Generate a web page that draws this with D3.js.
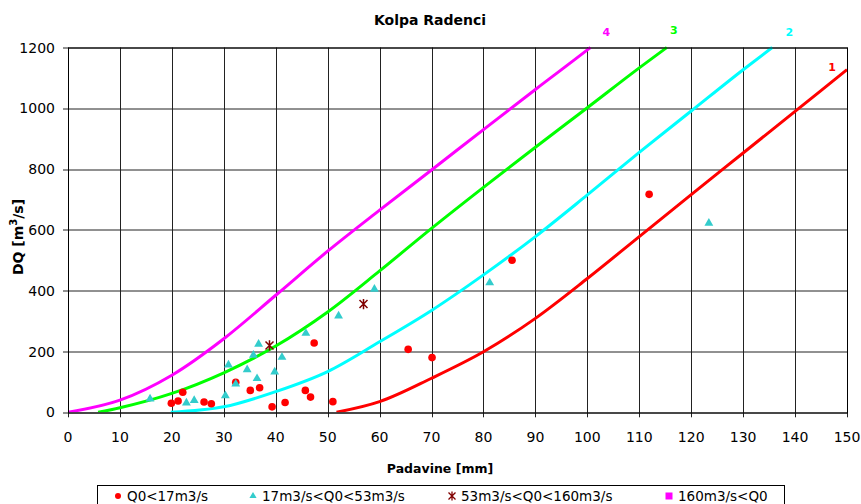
<!DOCTYPE html>
<html>
<head>
<meta charset="utf-8">
<script src="https://cdn.jsdelivr.net/npm/d3@7"></script>
<style>
body { margin: 0; background: #fff; }
text { font-family: "DejaVu Sans", Verdana, sans-serif; }
</style>
</head>
<body>
<div id="chart-area"></div>
<script>
// axis ticks
var xTicks = [0, 10, 20, 30, 40, 50, 60, 70, 80, 90, 100, 110, 120, 130, 140, 150];
var yTicks = [0, 200, 400, 600, 800, 1000, 1200];

// curves (P in mm, DQ in m3/s)
var curve1P = [51.7, 60, 70, 80, 90, 100, 110, 120, 130, 140, 150];
var curve1Q = [0, 35, 112, 199, 309, 440, 578, 716, 853, 990, 1127];
var curve2P = [19.8, 30, 40, 50, 60, 70, 80, 90, 100, 110, 120, 130, 135.6];
var curve2Q = [0, 18, 68, 134, 232, 335, 452, 578, 715, 855, 991, 1127, 1200];
var curve3P = [5.8, 10, 20, 30, 40, 50, 60, 70, 80, 90, 100, 110, 115.3];
var curve3Q = [0, 15, 62, 130, 218, 330, 465, 605, 740, 872, 1002, 1133, 1200];
var curve4P = [0, 10, 20, 30, 40, 50, 60, 70, 80, 90, 100, 100.6];
var curve4Q = [0, 40, 122, 242, 385, 530, 665, 797, 930, 1062, 1192, 1200];

// measured events
var lowP  = [19.9, 21.2, 22.1, 26.2, 27.6, 32.3, 35.1, 36.9, 39.3, 41.8, 45.7, 46.7, 47.4, 51.0, 65.5, 70.1, 85.5, 111.9];
var lowQ  = [30, 37, 66, 34, 28, 99, 72, 81, 18, 32, 72, 50, 228, 35, 207, 180, 500, 717];
var midP  = [15.8, 22.8, 24.3, 30.3, 30.9, 32.3, 34.5, 35.7, 36.4, 36.7, 39.8, 41.2, 45.8, 52.1, 59.0, 81.2, 123.4];
var midQ  = [44, 31, 39, 55, 156, 93, 140, 188, 111, 224, 133, 181, 260, 317, 405, 426, 622];
var highP = [38.8, 56.9];
var highQ = [220, 356];
var topP  = [];
var topQ  = [];

var legendNames = ['Q0<17m3/s', '17m3/s<Q0<53m3/s', '53m3/s<Q0<160m3/s', '160m3/s<Q0'];

var W = 861, H = 504;
var margin = { top: 47.5, bottom: 91.7, left: 68, right: 14 };
var width = W - margin.left - margin.right;
var height = H - margin.top - margin.bottom;

var svg = d3.select('#chart-area').append('svg')
	.attr('width', W)
	.attr('height', H);

var g = svg.append('g').attr('transform', `translate(${margin.left}, ${margin.top})`);

var x = d3.scaleLinear().domain([0, 150]).range([0, width]);
var y = d3.scaleLinear().domain([0, 1200]).range([height, 0]);

// grid + ticks
g.selectAll('.vgrid').data(xTicks).enter().append('line')
	.attr('class', 'vgrid')
	.attr('x1', d => Math.round(x(d)) + 0.5).attr('x2', d => Math.round(x(d)) + 0.5)
	.attr('y1', 0).attr('y2', height + 5)
	.attr('stroke', '#222').attr('stroke-width', 1);

g.selectAll('.hgrid').data(yTicks).enter().append('line')
	.attr('class', 'hgrid')
	.attr('x1', -5).attr('x2', width)
	.attr('y1', d => Math.round(y(d)) + 0.5).attr('y2', d => Math.round(y(d)) + 0.5)
	.attr('stroke', '#222').attr('stroke-width', 1);

g.selectAll('.xlab').data(xTicks).enter().append('text')
	.attr('x', d => x(d))
	.attr('y', height + 30)
	.attr('text-anchor', 'middle')
	.attr('font-size', '14px')
	.text(d => d);

g.selectAll('.ylab').data(yTicks).enter().append('text')
	.attr('x', -13)
	.attr('y', d => y(d) + 5)
	.attr('text-anchor', 'end')
	.attr('font-size', '14px')
	.text(d => d);

// title and axis labels
svg.append('text')
	.attr('x', 430).attr('y', 25)
	.attr('text-anchor', 'middle')
	.attr('font-size', '14px').attr('font-weight', 'bold')
	.text('Kolpa Radenci');

svg.append('text')
	.attr('x', 440).attr('y', 473)
	.attr('text-anchor', 'middle')
	.attr('font-size', '12.5px').attr('font-weight', 'bold')
	.text('Padavine [mm]');

var yl = svg.append('text')
	.attr('transform', 'translate(23, 237) rotate(-90)')
	.attr('text-anchor', 'middle')
	.attr('font-size', '14px').attr('font-weight', 'bold');
yl.append('tspan').text('DQ [m');
yl.append('tspan').attr('dy', -6).attr('font-size', '10px').text('3');
yl.append('tspan').attr('dy', 6).text('/s]');

// curves
svg.append('clipPath').attr('id', 'plot-clip').append('rect')
	.attr('x', 0).attr('y', -2).attr('width', width + 2).attr('height', height + 2);

var line = d3.line().x(d => x(d[0])).y(d => y(d[1])).curve(d3.curveMonotoneX);

var curves = [
	{ name: '1', P: curve1P, Q: curve1Q, color: '#ff0000', dx: -15, dy: 1 },
	{ name: '2', P: curve2P, Q: curve2Q, color: '#00ffff', dx: 17, dy: -12 },
	{ name: '3', P: curve3P, Q: curve3Q, color: '#00ff00', dx: 7, dy: -14 },
	{ name: '4', P: curve4P, Q: curve4Q, color: '#ff00ff', dx: 16, dy: -12 }
];

var cg = g.append('g').attr('clip-path', 'url(#plot-clip)');
curves.forEach(c => {
	var pts = c.P.map((p, i) => [p, c.Q[i]]);
	cg.append('path')
		.attr('d', line(pts))
		.attr('fill', 'none')
		.attr('stroke', c.color)
		.attr('stroke-width', 3);
	var last = pts[pts.length - 1];
	g.append('text')
		.attr('x', x(last[0]) + c.dx)
		.attr('y', y(last[1]) + c.dy)
		.attr('text-anchor', 'middle')
		.attr('font-size', '11px').attr('font-weight', 'bold')
		.attr('fill', c.color)
		.text(c.name);
});

// plot border
g.append('rect')
	.attr('x', 0.5).attr('y', 0.5)
	.attr('width', Math.round(width)).attr('height', Math.round(height))
	.attr('fill', 'none').attr('stroke', '#000');

// markers
var starPath = s => `M${-s},${-s}L${s},${s}M${-s},${s}L${s},${-s}M0,${-s * 1.3}L0,${s * 1.3}`;

g.selectAll('.low').data(lowP.map((p, i) => [p, lowQ[i]])).enter().append('circle')
	.attr('cx', d => x(d[0])).attr('cy', d => y(d[1]))
	.attr('r', 3.8).attr('fill', '#ff0000');

g.selectAll('.mid').data(midP.map((p, i) => [p, midQ[i]])).enter().append('path')
	.attr('transform', d => `translate(${x(d[0])}, ${y(d[1])})`)
	.attr('d', d3.symbol(d3.symbolTriangle, 34))
	.attr('fill', '#33cccc');

g.selectAll('.high').data(highP.map((p, i) => [p, highQ[i]])).enter().append('path')
	.attr('transform', d => `translate(${x(d[0])}, ${y(d[1])})`)
	.attr('d', starPath(4))
	.attr('stroke', '#800000').attr('stroke-width', 1.5).attr('fill', 'none');

g.selectAll('.top').data(topP.map((p, i) => [p, topQ[i]])).enter().append('rect')
	.attr('x', d => x(d[0]) - 3).attr('y', d => y(d[1]) - 3)
	.attr('width', 6).attr('height', 6).attr('fill', '#ff00ff');

// legend
var legend = svg.append('g');
legend.append('rect')
	.attr('x', 97.5).attr('y', 485.5).attr('width', 687).attr('height', 30)
	.attr('fill', '#fff').attr('stroke', '#000');

var legendX = [118, 253, 452, 669];
legendNames.forEach((name, i) => {
	var row = legend.append('g').attr('transform', `translate(${legendX[i]}, 496)`);
	if (i === 0) row.append('circle').attr('r', 3).attr('fill', '#ff0000');
	if (i === 1) row.append('path').attr('d', d3.symbol(d3.symbolTriangle, 22)).attr('fill', '#33cccc');
	if (i === 2) row.append('path').attr('d', starPath(3.5)).attr('stroke', '#800000').attr('stroke-width', 1.3).attr('fill', 'none');
	if (i === 3) row.append('rect').attr('x', -3.5).attr('y', -3.5).attr('width', 7).attr('height', 7).attr('fill', '#ff00ff');
	row.append('text')
		.attr('x', 9).attr('y', 5)
		.attr('font-size', '13.5px')
		.text(name);
});
</script>
</body>
</html>
